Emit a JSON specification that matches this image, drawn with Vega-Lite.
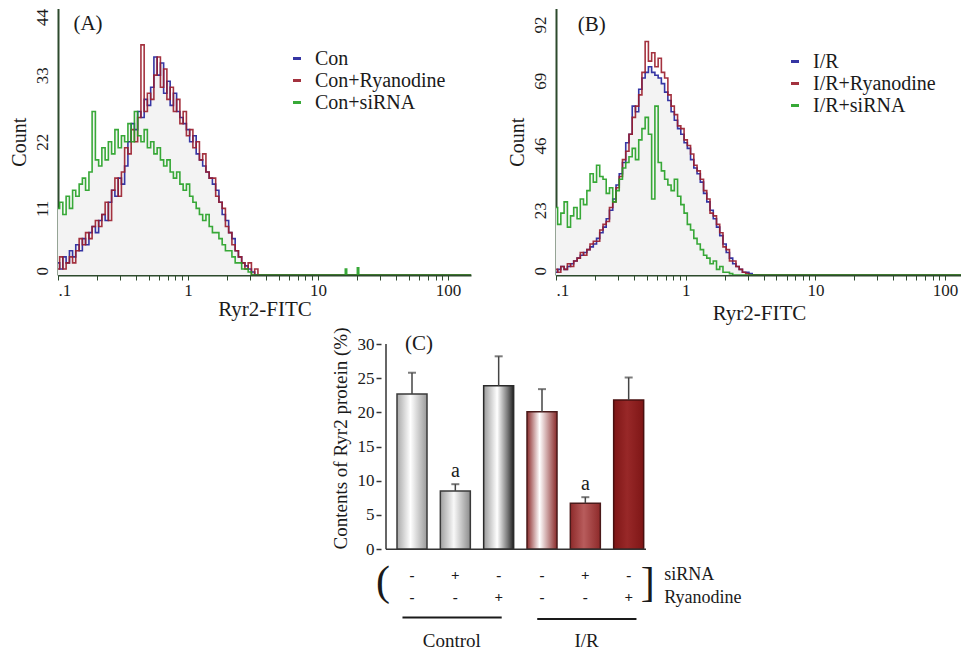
{
"$schema":"https://vega.github.io/schema/vega-lite/v6.json",
"background":"white",
"padding":{"left":9,"top":7.5,"right":0,"bottom":0},
"autosize":{"type":"pad"},
"config":{"view":{"stroke":null},"font":"Liberation Serif",
 "axis":{"labelFont":"Liberation Serif","titleFont":"Liberation Serif","titleFontWeight":"normal","labelColor":"#1a1a1a","titleColor":"#1a1a1a","grid":false,"domainColor":"#2d4a2d","tickColor":"#2d4a2d","domainWidth":2,"labelFontSize":17}},
"datasets":{
"hist":[
{"x":0.100,"c":2,"cr":1,"cs":11,"i":1,"ir":2,"is":24},
{"x":0.106,"c":1,"cr":3,"cs":12,"i":2,"ir":1,"is":18},
{"x":0.112,"c":3,"cr":1,"cs":10,"i":3,"ir":3,"is":22},
{"x":0.119,"c":2,"cr":2,"cs":13,"i":2,"ir":2,"is":26},
{"x":0.126,"c":4,"cr":3,"cs":11,"i":3,"ir":4,"is":17},
{"x":0.133,"c":3,"cr":2,"cs":14,"i":4,"ir":3,"is":21},
{"x":0.141,"c":5,"cr":4,"cs":13,"i":5,"ir":5,"is":24},
{"x":0.150,"c":4,"cr":6,"cs":15,"i":6,"ir":6,"is":20},
{"x":0.158,"c":6,"cr":5,"cs":16,"i":7,"ir":8,"is":27},
{"x":0.168,"c":5,"cr":7,"cs":14,"i":8,"ir":7,"is":25},
{"x":0.178,"c":7,"cr":6,"cs":17,"i":9,"ir":9,"is":30},
{"x":0.188,"c":8,"cr":8,"cs":27,"i":10,"ir":11,"is":36},
{"x":0.200,"c":7,"cr":9,"cs":19,"i":11,"ir":12,"is":33},
{"x":0.211,"c":9,"cr":8,"cs":18,"i":13,"ir":12,"is":39},
{"x":0.224,"c":10,"cr":10,"cs":21,"i":15,"ir":16,"is":35},
{"x":0.237,"c":9,"cr":12,"cs":19,"i":17,"ir":18,"is":34},
{"x":0.251,"c":12,"cr":9,"cs":22,"i":20,"ir":19,"is":29},
{"x":0.266,"c":14,"cr":14,"cs":20,"i":23,"ir":24,"is":31},
{"x":0.282,"c":13,"cr":16,"cs":24,"i":27,"ir":26,"is":26},
{"x":0.299,"c":16,"cr":13,"cs":21,"i":32,"ir":31,"is":30},
{"x":0.316,"c":15,"cr":17,"cs":23,"i":36,"ir":35,"is":34},
{"x":0.335,"c":18,"cr":21,"cs":22,"i":40,"ir":41,"is":38},
{"x":0.355,"c":22,"cr":20,"cs":25,"i":47,"ir":44,"is":40},
{"x":0.376,"c":25,"cr":24,"cs":22,"i":50,"ir":50,"is":42},
{"x":0.398,"c":24,"cr":22,"cs":27,"i":60,"ir":56,"is":45},
{"x":0.422,"c":27,"cr":26,"cs":23,"i":58,"ir":60,"is":41},
{"x":0.447,"c":26,"cr":38,"cs":22,"i":66,"ir":64,"is":48},
{"x":0.473,"c":29,"cr":27,"cs":24,"i":70,"ir":72,"is":52},
{"x":0.501,"c":28,"cr":30,"cs":21,"i":72,"ir":83,"is":56},
{"x":0.531,"c":31,"cr":29,"cs":22,"i":74,"ir":76,"is":50},
{"x":0.562,"c":36,"cr":33,"cs":20,"i":72,"ir":79,"is":27},
{"x":0.596,"c":33,"cr":36,"cs":21,"i":71,"ir":74,"is":60},
{"x":0.631,"c":35,"cr":31,"cs":19,"i":70,"ir":77,"is":40},
{"x":0.668,"c":30,"cr":34,"cs":18,"i":68,"ir":72,"is":37},
{"x":0.708,"c":32,"cr":29,"cs":19,"i":65,"ir":70,"is":34},
{"x":0.750,"c":28,"cr":31,"cs":17,"i":62,"ir":64,"is":32},
{"x":0.794,"c":30,"cr":27,"cs":16,"i":58,"ir":60,"is":30},
{"x":0.841,"c":27,"cr":29,"cs":17,"i":55,"ir":57,"is":34},
{"x":0.891,"c":26,"cr":25,"cs":15,"i":52,"ir":53,"is":28},
{"x":0.944,"c":25,"cr":27,"cs":14,"i":50,"ir":52,"is":25},
{"x":1.000,"c":24,"cr":23,"cs":15,"i":47,"ir":48,"is":22},
{"x":1.059,"c":22,"cr":24,"cs":13,"i":45,"ir":46,"is":18},
{"x":1.122,"c":23,"cr":21,"cs":12,"i":41,"ir":43,"is":16},
{"x":1.189,"c":20,"cr":22,"cs":11,"i":38,"ir":39,"is":13},
{"x":1.259,"c":19,"cr":19,"cs":10,"i":36,"ir":37,"is":11},
{"x":1.334,"c":18,"cr":20,"cs":9,"i":33,"ir":34,"is":9},
{"x":1.413,"c":17,"cr":17,"cs":10,"i":29,"ir":30,"is":7},
{"x":1.496,"c":16,"cr":16,"cs":8,"i":26,"ir":27,"is":6},
{"x":1.585,"c":15,"cr":16,"cs":7,"i":23,"ir":22,"is":4},
{"x":1.679,"c":14,"cr":13,"cs":7,"i":20,"ir":21,"is":5},
{"x":1.778,"c":12,"cr":12,"cs":6,"i":17,"ir":18,"is":2},
{"x":1.884,"c":10,"cr":11,"cs":5,"i":14,"ir":15,"is":3},
{"x":1.995,"c":9,"cr":8,"cs":4,"i":11,"ir":10,"is":1},
{"x":2.113,"c":7,"cr":7,"cs":4,"i":8,"ir":9,"is":1},
{"x":2.239,"c":6,"cr":5,"cs":3,"i":6,"ir":5,"is":0.5},
{"x":2.371,"c":4,"cr":4,"cs":2,"i":4,"ir":5,"is":0},
{"x":2.512,"c":3,"cr":3,"cs":2,"i":3,"ir":3,"is":0},
{"x":2.661,"c":2,"cr":2,"cs":1,"i":2,"ir":2,"is":0},
{"x":2.818,"c":1.5,"cr":1,"cs":1,"i":1,"ir":1,"is":0},
{"x":2.985,"c":1,"cr":2,"cs":0.5,"i":1,"ir":0.5,"is":0},
{"x":3.162,"c":0.5,"cr":0,"cs":0,"i":0.5,"ir":0,"is":0},
{"x":3.350,"c":0,"cr":1,"cs":0,"i":0,"ir":0,"is":0},
{"x":3.548,"c":0,"cr":0,"cs":0,"i":0,"ir":0,"is":0},
{"x":3.9,"c":0,"cr":0,"cs":0,"i":0,"ir":0,"is":0},
{"x":16.0,"c":0,"cr":0,"cs":0,"i":0,"ir":0,"is":0},
{"x":16.4,"c":0,"cr":0,"cs":1,"i":0,"ir":0,"is":0},
{"x":16.8,"c":0,"cr":0,"cs":0,"i":0,"ir":0,"is":0},
{"x":19.8,"c":0,"cr":0,"cs":0,"i":0,"ir":0,"is":0},
{"x":20.3,"c":0,"cr":0,"cs":1.2,"i":0,"ir":0,"is":0},
{"x":20.8,"c":0,"cr":0,"cs":0,"i":0,"ir":0,"is":0},
{"x":150,"c":0,"cr":0,"cs":0,"i":0,"ir":0,"is":0}
],
"bars":[
{"pos":1,"val":22.7,"hi":25.8,"lab":""},
{"pos":2,"val":8.5,"hi":9.5,"lab":"a"},
{"pos":3,"val":23.9,"hi":28.2,"lab":""},
{"pos":4,"val":20.1,"hi":23.4,"lab":""},
{"pos":5,"val":6.7,"hi":7.6,"lab":"a"},
{"pos":6,"val":21.8,"hi":25.1,"lab":""}
]
},
"vconcat":[
{"hconcat":[
 {"width":413,"height":266.5,
  "data":{"name":"hist"},
  "encoding":{
   "x":{"field":"x","type":"quantitative","scale":{"type":"log","domain":[0.1,150],"nice":false},"title":"Ryr2-FITC",
     "axis":{"values":[0.1,0.2,0.3,0.4,0.5,0.6,0.7,0.8,0.9,1,2,3,4,5,6,7,8,9,10,20,30,40,50,60,70,80,90,100],
       "labelExpr":"datum.value==0.1?'.1':datum.value==1?'1':datum.value==10?'10':datum.value==100?'100':''",
       "labelOverlap":false,"labelFlush":true,"tickSize":5,"labelPadding":2,"titlePadding":0,"titleFontSize":21}},
   "y":{"field":"n","type":"quantitative","stack":null,"scale":{"domain":[0,44],"nice":false},"title":"Count",
     "axis":{"values":[0,11,22,33,44],"labelAngle":-90,"labelAlign":{"expr":"datum.value==44?'right':datum.value==0?'left':'center'"},"labelBaseline":"bottom","tickSize":0,"labelPadding":7,"titleFontSize":20,"titlePadding":4}}
  },
  "layer":[
   {"transform":[{"fold":["c","cs"],"as":["s","n"]}],
    "mark":{"type":"area","interpolate":"step","color":"#f3f3f3","clip":true},
    "encoding":{"detail":{"field":"s"}}},
   {"transform":[{"fold":["c","cr","cs"],"as":["s","n"]}],
    "mark":{"type":"line","interpolate":"step","strokeWidth":1.6,"opacity":0.9,"clip":true},
    "encoding":{"color":{"field":"s","type":"nominal","scale":{"domain":["c","cr","cs"],"range":["#20209a","#9a1c2a","#22a022"]},
      "legend":{"title":null,"orient":"none","legendX":229,"legendY":40,"symbolType":"stroke","symbolStrokeWidth":3,"symbolSize":64,"labelFontSize":20,"labelFont":"Liberation Serif","labelColor":"#1a1a1a","rowPadding":2,"labelOffset":8,
       "labelExpr":"datum.label=='c'?'Con':datum.label=='cr'?'Con+Ryanodine':'Con+siRNA'"}}}},
   {"data":{"values":[{"x":0.17,"n":41.5,"t":"(A)"}]},
    "mark":{"type":"text","fontSize":21,"color":"#1a1a1a"},
    "encoding":{"text":{"field":"t"}}}
  ]},
 {"width":406,"height":266.5,
  "data":{"name":"hist"},
  "encoding":{
   "x":{"field":"x","type":"quantitative","scale":{"type":"log","domain":[0.1,135],"nice":false},"title":"Ryr2-FITC",
     "axis":{"values":[0.1,0.2,0.3,0.4,0.5,0.6,0.7,0.8,0.9,1,2,3,4,5,6,7,8,9,10,20,30,40,50,60,70,80,90,100],
       "labelExpr":"datum.value==0.1?'.1':datum.value==1?'1':datum.value==10?'10':datum.value==100?'100':''",
       "labelOverlap":false,"labelFlush":true,"tickSize":5,"labelPadding":2,"titlePadding":4,"titleFontSize":21}},
   "y":{"field":"n","type":"quantitative","stack":null,"scale":{"domain":[0,94.7],"nice":false},"title":"Count",
     "axis":{"values":[0,23,46,69,92],"labelAngle":-90,"labelAlign":{"expr":"datum.value==92?'right':datum.value==0?'left':'center'"},"labelBaseline":"bottom","tickSize":0,"labelPadding":7,"titleFontSize":20,"titlePadding":4}}
  },
  "layer":[
   {"transform":[{"fold":["i","is"],"as":["s","n"]}],
    "mark":{"type":"area","interpolate":"step","color":"#f3f3f3","clip":true},
    "encoding":{"detail":{"field":"s"}}},
   {"transform":[{"fold":["i","ir","is"],"as":["s","n"]}],
    "mark":{"type":"line","interpolate":"step","strokeWidth":1.6,"opacity":0.9,"clip":true},
    "encoding":{"color":{"field":"s","type":"nominal","scale":{"domain":["i","ir","is"],"range":["#20209a","#9a1c2a","#22a022"]},
      "legend":{"title":null,"orient":"none","legendX":229,"legendY":43,"symbolType":"stroke","symbolStrokeWidth":3,"symbolSize":64,"labelFontSize":20,"labelFont":"Liberation Serif","labelColor":"#1a1a1a","rowPadding":2,"labelOffset":8,
       "labelExpr":"datum.label=='i'?'I/R':datum.label=='ir'?'I/R+Ryanodine':'I/R+siRNA'"}}}},
   {"data":{"values":[{"x":0.189,"n":89,"t":"(B)"}]},
    "mark":{"type":"text","fontSize":21,"color":"#1a1a1a"},
    "encoding":{"text":{"field":"t"}}}
  ]}
 ],
 "spacing":85,"bounds":"flush",
 "resolve":{"scale":{"color":"independent"},"legend":{"color":"independent"}}},
{"hconcat":[
 {"width":313,"height":10,"data":{"values":[{}]},"mark":{"type":"point","opacity":0},"encoding":{}},
 {"width":270,"height":305,
  "data":{"name":"bars"},
  "encoding":{
   "x":{"field":"pos","type":"quantitative","scale":{"domain":[0.4,6.4],"nice":false,"zero":false},"axis":null},
   "y":{"field":"val","type":"quantitative","scale":{"domain":[-14.6,30],"nice":false,"zero":false},"title":"Contents of Ryr2 protein (%)",
     "axis":{"values":[0,5,10,15,20,25,30],"domain":false,"tickSize":5,"tickColor":"#333333","tickWidth":1.5,"labelPadding":2,"titleFontSize":19,"titlePadding":7,"titleY":94}}
  },
  "layer":[
   {"transform":[{"filter":"datum.pos==1"}],"mark":{"type":"bar","width":30,"stroke":"#3a3a3a","strokeWidth":1.5,
     "fill":{"gradient":"linear","x1":0,"y1":0,"x2":1,"y2":0,"stops":[{"offset":0,"color":"#a8a8a8"},{"offset":0.45,"color":"#ffffff"},{"offset":1,"color":"#9a9a9a"}]}},
    "encoding":{"y2":{"datum":0}}},
   {"transform":[{"filter":"datum.pos==2"}],"mark":{"type":"bar","width":30,"stroke":"#3a3a3a","strokeWidth":1.5,
     "fill":{"gradient":"linear","x1":0,"y1":0,"x2":1,"y2":0,"stops":[{"offset":0,"color":"#a0a0a0"},{"offset":0.45,"color":"#f8f8f8"},{"offset":1,"color":"#8c8c8c"}]}},
    "encoding":{"y2":{"datum":0}}},
   {"transform":[{"filter":"datum.pos==3"}],"mark":{"type":"bar","width":30,"stroke":"#2a2a2a","strokeWidth":1.5,
     "fill":{"gradient":"linear","x1":0,"y1":0,"x2":1,"y2":0,"stops":[{"offset":0,"color":"#9a9a9a"},{"offset":0.45,"color":"#ffffff"},{"offset":0.8,"color":"#777777"},{"offset":1,"color":"#222222"}]}},
    "encoding":{"y2":{"datum":0}}},
   {"transform":[{"filter":"datum.pos==4"}],"mark":{"type":"bar","width":30,"stroke":"#4a1a1a","strokeWidth":1.5,
     "fill":{"gradient":"linear","x1":0,"y1":0,"x2":1,"y2":0,"stops":[{"offset":0,"color":"#8a2a2a"},{"offset":0.42,"color":"#ffffff"},{"offset":1,"color":"#8a2a2a"}]}},
    "encoding":{"y2":{"datum":0}}},
   {"transform":[{"filter":"datum.pos==5"}],"mark":{"type":"bar","width":30,"stroke":"#4a1a1a","strokeWidth":1.5,
     "fill":{"gradient":"linear","x1":0,"y1":0,"x2":1,"y2":0,"stops":[{"offset":0,"color":"#8e2a2a"},{"offset":0.45,"color":"#b85c5c"},{"offset":1,"color":"#8e2a2a"}]}},
    "encoding":{"y2":{"datum":0}}},
   {"transform":[{"filter":"datum.pos==6"}],"mark":{"type":"bar","width":30,"stroke":"#4a1010","strokeWidth":1.5,
     "fill":{"gradient":"linear","x1":0,"y1":0,"x2":1,"y2":0,"stops":[{"offset":0,"color":"#7e1616"},{"offset":0.45,"color":"#982828"},{"offset":1,"color":"#7e1616"}]}},
    "encoding":{"y2":{"datum":0}}},
   {"mark":{"type":"rule","color":"#444444","strokeWidth":1.5},"encoding":{"y2":{"field":"hi"}}},
   {"mark":{"type":"tick","orient":"horizontal","size":8,"thickness":2,"color":"#444444"},
    "encoding":{"y":{"field":"hi","type":"quantitative","title":"Contents of Ryr2 protein (%)"}}},
   {"transform":[{"filter":"datum.lab!=''"}],"mark":{"type":"text","fontSize":20,"baseline":"bottom","dy":-3,"color":"#1a1a1a"},
    "encoding":{"y":{"field":"hi","type":"quantitative","title":"Contents of Ryr2 protein (%)"},"text":{"field":"lab"}}},
   {"data":{"values":[{"pos":0.4,"val":0,"val2":30}]},"mark":{"type":"rule","color":"#333333","strokeWidth":1.5},"encoding":{"y2":{"field":"val2"}}},
   {"data":{"values":[{"pos":0.4,"pos2":6.4,"val":0}]},"mark":{"type":"rule","color":"#333333","strokeWidth":1.5},"encoding":{"x2":{"field":"pos2"}}},
   {"data":{"values":[
     {"pos":1,"val":-3.8,"t":"-"},{"pos":2,"val":-3.8,"t":"+"},{"pos":3,"val":-3.8,"t":"-"},
     {"pos":4,"val":-3.8,"t":"-"},{"pos":5,"val":-3.8,"t":"+"},{"pos":6,"val":-3.8,"t":"-"},
     {"pos":1,"val":-7.0,"t":"-"},{"pos":2,"val":-7.0,"t":"-"},{"pos":3,"val":-7.0,"t":"+"},
     {"pos":4,"val":-7.0,"t":"-"},{"pos":5,"val":-7.0,"t":"-"},{"pos":6,"val":-7.0,"t":"+"}]},
    "mark":{"type":"text","fontSize":15,"fontWeight":"bold","color":"#1a1a1a","baseline":"middle"},
    "encoding":{"text":{"field":"t"}}},
   {"data":{"values":[{"pos":6.82,"val":-3.8,"t":"siRNA"},{"pos":6.82,"val":-7.2,"t":"Ryanodine"}]},
    "mark":{"type":"text","fontSize":18,"align":"left","baseline":"middle","color":"#1a1a1a"},
    "encoding":{"text":{"field":"t"}}},
   {"data":{"values":[{"pos":0.33,"val":-4.8,"t":"("},{"pos":6.44,"val":-4.9,"t":"]"}]},
    "mark":{"type":"text","fontSize":42,"baseline":"middle","color":"#1a1a1a"},
    "encoding":{"text":{"field":"t"}}},
   {"data":{"values":[{"pos":0.78,"pos2":3.07,"val":-10},{"pos":3.89,"pos2":6.18,"val":-10.2}]},
    "mark":{"type":"rule","color":"#1a1a1a","strokeWidth":2},"encoding":{"x2":{"field":"pos2"}}},
   {"data":{"values":[{"pos":1.92,"val":-13.5,"t":"Control"},{"pos":5.03,"val":-13.5,"t":"I/R"}]},
    "mark":{"type":"text","fontSize":19,"baseline":"middle","color":"#1a1a1a"},
    "encoding":{"text":{"field":"t"}}},
   {"data":{"values":[{"pos":1.16,"val":30,"t":"(C)"}]},
    "mark":{"type":"text","fontSize":21,"baseline":"middle","color":"#1a1a1a"},
    "encoding":{"text":{"field":"t"}}}
  ]}
 ],
 "spacing":10,"bounds":"flush"}
],
"spacing":3.5
}
